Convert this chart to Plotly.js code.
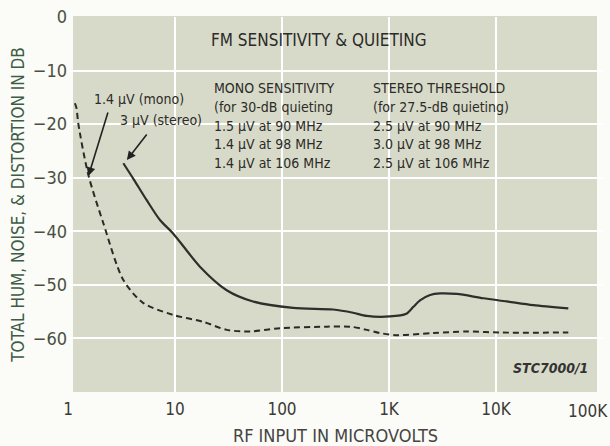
<!DOCTYPE html>
<html>
<head>
<meta charset="utf-8">
<script src="https://cdn.plot.ly/plotly-3.0.1.min.js"></script>
<style>
  html, body { margin: 0; padding: 0; background: #fbfbf8; }
  #chart { width: 610px; height: 446px; }
</style>
</head>
<body>
<div id="chart"></div>
<script>
// RF input (microvolts) and total hum/noise/distortion (dB)
const stereoInput = [3.29, 4.14, 5.44, 7.24, 9.6, 17.1, 30.4, 53.6, 127, 300, 461, 620, 1020, 1450, 1690, 1950, 2420, 3000, 4300, 7600, 12600, 22300, 47400];
const stereoDb    = [-27.3, -30.4, -34.2, -37.9, -40.4, -46.6, -51.0, -53.1, -54.3, -54.6, -55.2, -55.8, -55.9, -55.4, -54.1, -52.9, -51.9, -51.6, -51.7, -52.5, -53.1, -53.8, -54.4];

const monoInput = [1.16, 1.2, 1.25, 1.55, 2.14, 3.29, 5.06, 9.6, 18.4, 30.4, 50.2, 95.7, 262, 433, 620, 824, 1180, 2590, 5320, 10900, 47400];
const monoDb    = [-16.1, -17.0, -20.0, -29.5, -38.5, -49.1, -53.4, -55.6, -56.9, -58.4, -58.7, -58.1, -57.8, -57.8, -58.4, -59.0, -59.4, -59.0, -58.7, -58.9, -58.9];

const xTickVals = [1, 10, 100, 1000, 10000, 100000];
const xTickText = ["1", "10", "100", "1K", "10K", "100K"];
const yTickVals = [0, -10, -20, -30, -40, -50, -60];

const chartTitle = "FM SENSITIVITY &amp; QUIETING";
const monoLines = ["MONO SENSITIVITY", "(for 30-dB quieting", "1.5 µV at 90 MHz", "1.4 µV at 98 MHz", "1.4 µV at 106 MHz"];
const stereoLines = ["STEREO THRESHOLD", "(for 27.5-dB quieting)", "2.5 µV at 90 MHz", "3.0 µV at 98 MHz", "2.5 µV at 106 MHz"];
const monoLabel = "1.4 µV (mono)";
const stereoLabel = "3 µV (stereo)";
const monoArrowTip = [1.55, -29.7];
const stereoArrowTip = [3.55, -26.7];
const figureId = "STC7000/1";

const FONT = "'Liberation Sans Narrow', 'DejaVu Sans Condensed', 'Arial Narrow', sans-serif";
const INK = "#2b2b28";

// layout helpers (pixel -> paper)
const L = 68, R = 7, T = 17, B = 54, W = 610, H = 446;
const pw = W - L - R, ph = H - T - B;
const px = v => (v - L) / pw;
const py = v => (H - B - v) / ph;

const traces = [
  {
    x: monoInput, y: monoDb, type: "scatter", mode: "lines",
    line: { color: "#2a2a26", width: 2, dash: "6px,4px", shape: "spline", smoothing: 0.8 },
    hoverinfo: "skip", showlegend: false
  },
  {
    x: stereoInput, y: stereoDb, type: "scatter", mode: "lines",
    line: { color: "#2e2e2a", width: 2.2, shape: "spline", smoothing: 0.8 },
    hoverinfo: "skip", showlegend: false
  }
];

const annotations = [];
annotations.push({
  xref: "paper", yref: "paper", x: px(319), y: py(40), text: chartTitle,
  showarrow: false, xanchor: "center", yanchor: "middle",
  font: { family: FONT, size: 17, color: INK }
});
monoLines.forEach((t, i) => annotations.push({
  xref: "paper", yref: "paper", x: px(212), y: py(88 + i * 18.8), text: t,
  showarrow: false, xanchor: "left", yanchor: "middle",
  font: { family: FONT, size: 14, color: INK }
}));
stereoLines.forEach((t, i) => annotations.push({
  xref: "paper", yref: "paper", x: px(371), y: py(88 + i * 18.8), text: t,
  showarrow: false, xanchor: "left", yanchor: "middle",
  font: { family: FONT, size: 14, color: INK }
}));
annotations.push({
  xref: "paper", yref: "paper", x: px(139), y: py(99), text: monoLabel,
  showarrow: false, xanchor: "center", yanchor: "middle",
  font: { family: FONT, size: 14, color: INK }
});
annotations.push({
  xref: "paper", yref: "paper", x: px(161), y: py(120), text: stereoLabel,
  showarrow: false, xanchor: "center", yanchor: "middle",
  font: { family: FONT, size: 14, color: INK }
});
annotations.push({
  x: Math.log10(monoArrowTip[0]), y: monoArrowTip[1], xref: "x", yref: "y",
  text: "", showarrow: true, ax: 20, ay: -65,
  arrowhead: 2, arrowsize: 1.1, arrowwidth: 1.6, arrowcolor: "#222"
});
annotations.push({
  x: Math.log10(stereoArrowTip[0]), y: stereoArrowTip[1], xref: "x", yref: "y",
  text: "", showarrow: true, ax: 21, ay: -27,
  arrowhead: 2, arrowsize: 1.1, arrowwidth: 1.6, arrowcolor: "#222"
});
annotations.push({
  xref: "paper", yref: "paper", x: px(550), y: py(368), text: "<b><i>" + figureId + "</i></b>",
  showarrow: false, xanchor: "center", yanchor: "middle",
  font: { family: FONT, size: 14, color: "#333" }
});
// last x tick label sits against the page edge, drawn shifted inward
annotations.push({
  xref: "paper", yref: "paper", x: px(588), y: py(411), text: xTickText[5],
  showarrow: false, xanchor: "center", yanchor: "middle",
  font: { family: FONT, size: 17, color: "#3a3a35" }
});

const layout = {
  width: W, height: H,
  margin: { l: L, r: R, t: T, b: B, pad: 0 },
  paper_bgcolor: "#fbfbf8",
  plot_bgcolor: "rgba(0,0,0,0)",
  showlegend: false,
  xaxis: {
    type: "log", range: [0, 5],
    tickvals: xTickVals.slice(0, 5), ticktext: xTickText.slice(0, 5),
    showgrid: true, gridcolor: "#ffffff", gridwidth: 2,
    zeroline: false, showline: false, ticks: "",
    ticklabelstandoff: 5,
    tickfont: { family: FONT, size: 17, color: "#3a3a35" },
    title: { text: "RF INPUT IN MICROVOLTS", standoff: 14,
             font: { family: FONT, size: 18, color: "#444440" } },
    fixedrange: true
  },
  yaxis: {
    range: [-70, 0],
    tickvals: yTickVals,
    showgrid: true, gridcolor: "#ffffff", gridwidth: 2,
    zeroline: false, showline: false, ticks: "",
    tickfont: { family: FONT, size: 18, color: "#4a5040" },
    title: { text: "TOTAL HUM, NOISE, &amp; DISTORTION IN DB", standoff: 3,
             font: { family: FONT, size: 17, color: "#3d5c45" } },
    fixedrange: true
  },
  shapes: [{
    type: "rect", xref: "paper", yref: "paper", layer: "below",
    x0: px(73), x1: px(597), y0: 0, y1: py(16),
    fillcolor: "#d8dac9", line: { width: 0 }
  }],
  annotations: annotations
};

Plotly.newPlot("chart", traces, layout, { displayModeBar: false, staticPlot: true });
</script>
</body>
</html>
